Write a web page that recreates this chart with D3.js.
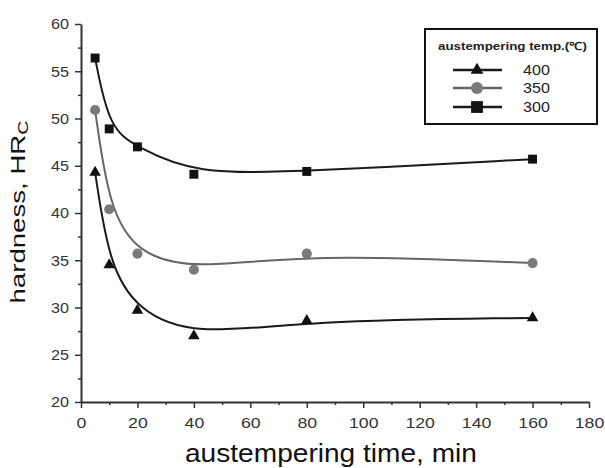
<!DOCTYPE html>
<html>
<head>
<meta charset="utf-8">
<script src="https://cdn.jsdelivr.net/npm/d3@7"></script>
<style>
  body { margin: 0; background: #fff; }
  svg { display: block; }
  text { font-family: "Liberation Sans", Arial, sans-serif; }
</style>
</head>
<body>
<svg id="chart" width="605" height="468"></svg>
<script>
// ---- data ----
const times = [5, 10, 20, 40, 80, 160];
const hard400 = [44.3, 34.5, 29.7, 27.0, 28.6, 28.9];
const hard350 = [50.9, 40.4, 35.7, 34.0, 35.7, 34.7];
const hard300 = [56.4, 48.9, 47.0, 44.1, 44.4, 45.7];
const seriesNames = ["400", "350", "300"];
const xTicks = [0, 20, 40, 60, 80, 100, 120, 140, 160, 180];
const yTicks = [20, 25, 30, 35, 40, 45, 50, 55, 60];
const xTitle = "austempering time, min";
const legendTitle = "austempering temp.(\u2103)";

// ---- styles ----
const styles = {
  "400": { line: "#1a1a1a", fill: "#111", symbol: d3.symbolTriangle, size: 58, lsize: 70 },
  "350": { line: "#666", fill: "#7a7a7a", symbol: d3.symbolCircle, size: 80, lsize: 115 },
  "300": { line: "#1a1a1a", fill: "#111", symbol: d3.symbolSquare, size: 80, lsize: 140 }
};
const values = { "400": hard400, "350": hard350, "300": hard300 };

const svg = d3.select("#chart");
const x = d3.scaleLinear().domain([0, 180]).range([81, 589]);
const y = d3.scaleLinear().domain([20, 60]).range([402, 24]);

function stretch(sel, factor) {
  sel.each(function () {
    const len = this.getComputedTextLength();
    d3.select(this).attr("textLength", len * factor).attr("lengthAdjust", "spacingAndGlyphs");
  });
}

// minor ticks
svg.append("g").attr("transform", "translate(0,402)")
  .call(d3.axisBottom(x).tickValues(d3.range(10, 180, 20)).tickSize(3).tickFormat(""))
  .call(g => g.select(".domain").remove())
  .call(g => g.selectAll("line").attr("stroke", "#333").attr("stroke-width", 1.5));
svg.append("g").attr("transform", "translate(81,0)")
  .call(d3.axisLeft(y).tickValues(d3.range(22.5, 60, 5)).tickSize(3).tickFormat(""))
  .call(g => g.select(".domain").remove())
  .call(g => g.selectAll("line").attr("stroke", "#333").attr("stroke-width", 1.5));

// major axes
const gx = svg.append("g").attr("transform", "translate(0,402)")
  .call(d3.axisBottom(x).tickValues(xTicks).tickSize(6).tickSizeOuter(0).tickPadding(9));
const gy = svg.append("g").attr("transform", "translate(81,0)")
  .call(d3.axisLeft(y).tickValues(yTicks).tickSize(6).tickSizeOuter(0).tickPadding(6));
[gx, gy].forEach(g => {
  g.select(".domain").attr("stroke", "#333").attr("stroke-width", 2);
  g.selectAll(".tick line").attr("stroke", "#333").attr("stroke-width", 1.5);
  g.selectAll(".tick text").attr("font-size", 15).attr("fill", "#333")
    .attr("font-family", "Liberation Sans, Arial, sans-serif");
});
stretch(gx.selectAll(".tick text"), 1.18);
stretch(gy.selectAll(".tick text"), 1.08);

// curves
const line = d3.line().x(d => x(d[0])).y(d => y(d[1])).curve(d3.curveBasis);
seriesNames.forEach(name => {
  const pts = times.map((t, i) => [t, values[name][i]]);
  svg.append("path").datum(pts).attr("d", line)
    .attr("fill", "none").attr("stroke", styles[name].line).attr("stroke-width", 2);
});
seriesNames.forEach(name => {
  const st = styles[name];
  svg.append("g").selectAll("path").data(times.map((t, i) => [t, values[name][i]]))
    .join("path")
    .attr("transform", d => `translate(${x(d[0])},${y(d[1])})`)
    .attr("d", d3.symbol().type(st.symbol).size(st.size))
    .attr("fill", st.fill);
});

// axis titles
const xt = svg.append("text").attr("x", 331).attr("y", 462).attr("text-anchor", "middle")
  .attr("font-size", 26).attr("fill", "#111").text(xTitle);
xt.attr("textLength", 292).attr("lengthAdjust", "spacingAndGlyphs");

const yt = svg.append("text").attr("transform", "translate(25,212) rotate(-90)")
  .attr("text-anchor", "middle").attr("font-size", 21).attr("fill", "#111");
yt.append("tspan").text("hardness, HR");
yt.append("tspan").attr("font-size", 15).attr("dy", 3).text("C");
yt.attr("textLength", 183).attr("lengthAdjust", "spacingAndGlyphs");

// legend
const lg = svg.append("g");
lg.append("rect").attr("x", 425).attr("y", 29).attr("width", 172).attr("height", 95)
  .attr("fill", "#fff").attr("stroke", "#111").attr("stroke-width", 2);
lg.append("text").attr("x", 438).attr("y", 50).attr("font-size", 11).attr("font-weight", "bold")
  .attr("fill", "#222").text(legendTitle)
  .attr("textLength", 149).attr("lengthAdjust", "spacingAndGlyphs");
const rowY = [70, 88, 107];
seriesNames.forEach((name, i) => {
  const st = styles[name];
  lg.append("line").attr("x1", 453).attr("x2", 502).attr("y1", rowY[i]).attr("y2", rowY[i])
    .attr("stroke", st.line).attr("stroke-width", 2.5);
  lg.append("path").attr("transform", `translate(477,${rowY[i]})`)
    .attr("d", d3.symbol().type(st.symbol).size(st.lsize)).attr("fill", st.fill);
  const t = lg.append("text").attr("x", 523).attr("y", rowY[i] + 5).attr("font-size", 14)
    .attr("fill", "#222").text(name);
  stretch(t, 1.15);
});
</script>
</body>
</html>
